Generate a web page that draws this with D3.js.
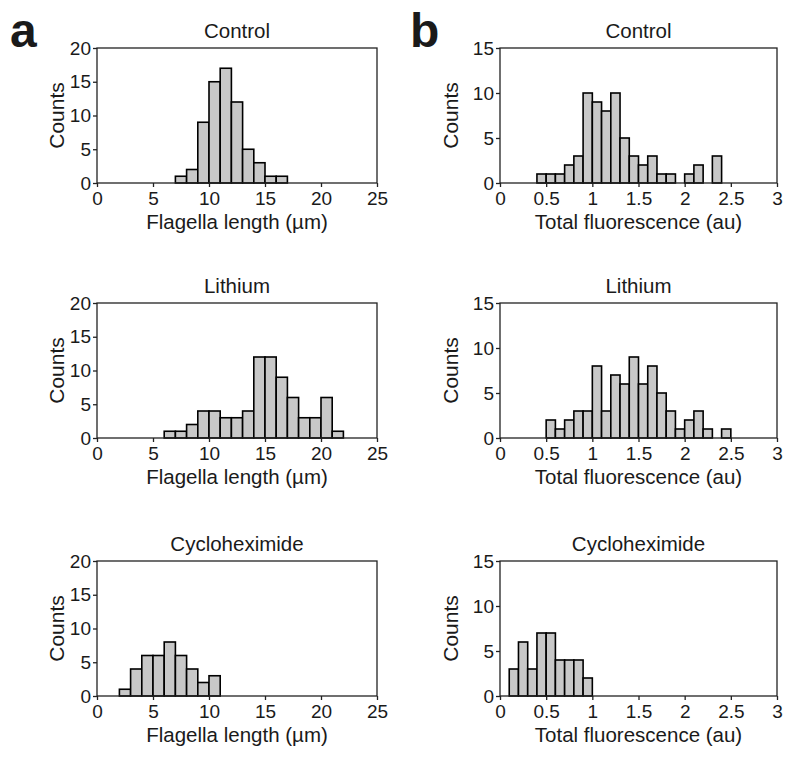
<!DOCTYPE html>
<html>
<head>
<meta charset="utf-8">
<script src="https://cdnjs.cloudflare.com/ajax/libs/d3/7.8.5/d3.min.js"></script>
<style>
  body { margin: 0; background: #fff; }
  svg text { font-family: "Liberation Sans", Arial, sans-serif; fill: #1a1a1a; }
</style>
</head>
<body>
<svg id="chart" width="793" height="760"></svg>
<script>
// Panel a: flagella length histograms (bin width 1 µm)
const lengthTicks = [0, 5, 10, 15, 20, 25]
const lengthCountTicks = [0, 5, 10, 15, 20]
const lengthControlStart = 7
const lengthControl = [1, 2, 9, 15, 17, 12, 5, 3, 1, 1]
const lengthLithiumStart = 6
const lengthLithium = [1, 1, 2, 4, 4, 3, 3, 4, 12, 12, 9, 6, 3, 3, 6, 1]
const lengthCycloStart = 2
const lengthCyclo = [1, 4, 6, 6, 8, 6, 4, 2, 3]

// Panel b: total fluorescence histograms (bin width 0.1 au)
const fluoTicks = [0, 0.5, 1, 1.5, 2, 2.5, 3]
const fluoCountTicks = [0, 5, 10, 15]
const fluoControlStart = 0.4
const fluoControl = [1, 1, 1, 2, 3, 10, 9, 8, 10, 5, 3, 2, 3, 1, 1, 0, 1, 2, 0, 3]
const fluoLithiumStart = 0.5
const fluoLithium = [2, 1, 2, 3, 3, 8, 3, 7, 6, 9, 6, 8, 5, 3, 1, 2, 3, 1, 0, 1]
const fluoCycloStart = 0.1
const fluoCyclo = [3, 6, 3, 7, 7, 4, 4, 4, 2]

const titles = ["Control", "Lithium", "Cycloheximide"]

const svg = d3.select("#chart")
const rowTops = [48, 303, 561]
const plotH = 135

//Draw one histogram panel
function histogram(opts) {
  const g = svg.append("g").attr("transform", `translate(${opts.left},${opts.top})`)
  const x = d3.scaleLinear().domain([opts.xTicks[0], opts.xTicks[opts.xTicks.length - 1]]).range([0, opts.width])
  const y = d3.scaleLinear().domain([0, opts.yTicks[opts.yTicks.length - 1]]).range([plotH, 0])

  const bins = opts.counts.map((c, i) => ({ x0: opts.start + i * opts.binWidth, count: c }))
    .filter(d => d.count > 0)

  g.selectAll("rect.bar")
    .data(bins)
    .enter()
    .append("rect")
    .attr("class", "bar")
    .attr("x", d => x(d.x0))
    .attr("y", d => y(d.count))
    .attr("width", d => x(d.x0 + opts.binWidth) - x(d.x0))
    .attr("height", d => y(0) - y(d.count))
    .attr("fill", "#c8c8c8")
    .attr("stroke", "#000")
    .attr("stroke-width", 1.6)

  // frame
  g.append("rect")
    .attr("width", opts.width)
    .attr("height", plotH)
    .attr("fill", "none")
    .attr("stroke", "#222")
    .attr("stroke-width", 1.3)

  const axisX = g.append("g")
    .attr("transform", `translate(0,${plotH})`)
    .call(d3.axisBottom(x).tickValues(opts.xTicks).tickSize(4).tickPadding(5).tickFormat(d3.format("")))
  const axisY = g.append("g")
    .call(d3.axisLeft(y).tickValues(opts.yTicks).tickSize(4).tickPadding(2))

  ;[axisX, axisY].forEach(a => {
    a.select(".domain").remove()
    a.selectAll("line").attr("stroke", "#222").attr("stroke-width", 1.3)
    a.selectAll("text").style("font-size", "19px").attr("fill", "#1a1a1a")
  })

  g.append("text")
    .attr("x", opts.width / 2)
    .attr("y", -10)
    .attr("text-anchor", "middle")
    .style("font-size", "20.5px")
    .text(opts.title)

  g.append("text")
    .attr("x", opts.width / 2)
    .attr("y", plotH + 46)
    .attr("text-anchor", "middle")
    .style("font-size", "20.5px")
    .text(opts.xLabel)

  g.append("text")
    .attr("transform", `translate(${opts.yLabelX},${plotH / 2}) rotate(-90)`)
    .attr("text-anchor", "middle")
    .style("font-size", "21px")
    .text("Counts")
}

const lengthSets = [[lengthControlStart, lengthControl], [lengthLithiumStart, lengthLithium], [lengthCycloStart, lengthCyclo]]
const fluoSets = [[fluoControlStart, fluoControl], [fluoLithiumStart, fluoLithium], [fluoCycloStart, fluoCyclo]]

lengthSets.forEach((s, i) => histogram({
  left: 97, top: rowTops[i], width: 280,
  xTicks: lengthTicks, yTicks: lengthCountTicks,
  start: s[0], counts: s[1], binWidth: 1,
  title: titles[i], xLabel: "Flagella length (µm)", yLabelX: -33
}))

fluoSets.forEach((s, i) => histogram({
  left: 500, top: rowTops[i], width: 277,
  xTicks: fluoTicks, yTicks: fluoCountTicks,
  start: s[0], counts: s[1], binWidth: 0.1,
  title: titles[i], xLabel: "Total fluorescence (au)", yLabelX: -42
}))

// panel letters
svg.append("text").attr("x", 10).attr("y", 47).style("font-size", "48px").style("font-weight", "bold").text("a")
svg.append("text").attr("x", 410).attr("y", 47).style("font-size", "48px").style("font-weight", "bold").text("b")
</script>
</body>
</html>
